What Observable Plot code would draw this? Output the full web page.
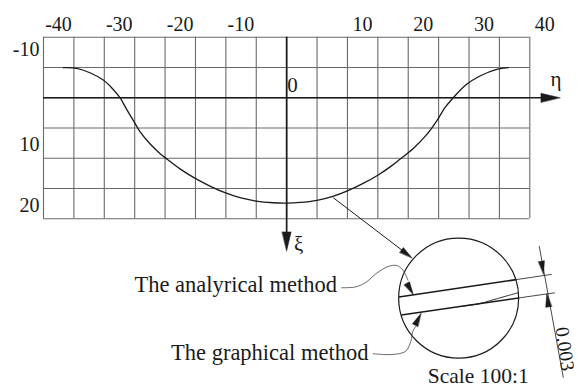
<!DOCTYPE html>
<html>
<head>
<meta charset="utf-8">
<script src="https://cdn.jsdelivr.net/npm/d3@7"></script>
<script src="https://cdn.jsdelivr.net/npm/@observablehq/plot@0.6"></script>
<style>
  html, body { margin: 0; padding: 0; background: #fff; }
  #chart svg { display: block; }
</style>
</head>
<body>
<div id="chart"></div>
<script>
// Profile of the contour in the (η, ξ) plane; ξ grows downward.
const etaDomain = [-40, 40];
const xiDomain = [-10, 20];
const gridEta = d3.range(-40, 41, 5);
const gridXi = d3.range(-10, 21, 5);
const etaTickLabels = [-40, -30, -20, -10, 10, 20, 30, 40];
const xiTickTop = [-10];
const xiTicksLower = [10, 20];

// Contour points (η, ξ)
const curveEta = [-36.75, -34.55, -32.36, -30.17, -28.79, -27.42, -26.32, -25.23, -24.13, -22.49, -20.85, -19.74,
                  -17.55, -15.25, -12.62, -10.15, -7.68, -5.05, -2.2, 0,
                  2.2, 5.0, 7.6, 10.0, 12.5, 15.0, 17.2, 18.64, 20.83, 23.03, 24.67, 26.04, 27.41, 29.61, 31.8, 34.55, 36.45];
const curveXi  = [-4.96, -4.86, -4.13, -2.92, -1.65, 0, 1.92, 3.75, 5.6, 7.6, 9.2, 10.1,
                  11.75, 13.2, 14.59, 15.69, 16.52, 17.07, 17.35, 17.4,
                  17.3, 16.95, 16.3, 15.4, 14.2, 12.8, 11.3, 10.18, 8.4, 6.1, 3.85, 1.65, 0, -2.21, -3.59, -4.69, -4.96];

// Detail view (drawn in the same η/ξ units, below the grid)
const detailCenter = [{eta: 28.3, xi: 33.1}];
const pointerLine = [{eta1: 7.67, xi1: 16.52, eta2: 20.3, xi2: 26.2}];
const bandInside = [
  {eta1: 18.47, xi1: 32.93, eta2: 37.74, xi2: 30.05},
  {eta1: 18.87, xi1: 35.88, eta2: 38.21, xi2: 33.07}
];
const bandExtension = [
  {eta1: 37.74, xi1: 30.05, eta2: 43.59, xi2: 29.18},
  {eta1: 38.21, xi1: 33.07, eta2: 44.14, xi2: 32.22}
];
const forkEta = [29.05, 31.6, 33.4, 36.0, 38.1];
const forkXi  = [34.41, 34.05, 33.55, 32.8, 32.22];
const dimensionLine = [{eta1: 41.55, xi1: 24.51, eta2: 45.52, xi2: 46.26}];
const analyticLeaderEta = [9.05, 11.24, 12.88, 14.85, 16.66, 18.14, 19.13, 19.95];
const analyticLeaderXi  = [31.39, 31.27, 30.61, 28.96, 27.89, 27.72, 28.47, 30.12];
const graphicLeaderEta = [14.25, 16.17, 18.14, 19.62, 20.45, 20.78, 21.27];
const graphicLeaderXi  = [42.29, 42.43, 42.34, 41.85, 40.19, 38.54, 37.72];

// Arrowheads: tip position and heading (degrees clockwise from up)
const axisHeads = [
  {eta: 44.96, xi: 0, heading: 90},     // η axis
  {eta: 0, xi: 25.3, heading: 180}      // ξ axis
];
const pointerHeads = [
  {eta: 20.6, xi: 26.45, heading: 127.4},  // pointer to detail
  {eta: 42.25, xi: 29.13, heading: 171.1}, // dimension, upper
  {eta: 42.78, xi: 32.43, heading: 351.1}, // dimension, lower
  {eta: 20.83, xi: 32.51, heading: 150.4}, // analytical leader
  {eta: 22.09, xi: 35.65, heading: 26.6}   // graphical leader
];

const centredLabels = [
  {eta: 0.95, xi: -2.1, text: "0"},
  {eta: 44.3, xi: -3.0, text: "η"},
  {eta: 2.0, xi: 24.2, text: "ξ"}
];
const methodLabels = [
  {eta: 8.27, xi: 30.83, text: "The analyrical method"},
  {eta: 13.46, xi: 42.13, text: "The graphical method"}
];
const scaleLabel = [{eta: 31.52, xi: 45.98, text: "Scale 100:1"}];
const dimensionLabel = [{eta: 45.75, xi: 41.5, text: "0.003"}];

const curve = curveEta.map((e, i) => ({eta: e, xi: curveXi[i]}));
const fork = forkEta.map((e, i) => ({eta: e, xi: forkXi[i]}));
const analyticLeader = analyticLeaderEta.map((e, i) => ({eta: e, xi: analyticLeaderXi[i]}));
const graphicLeader = graphicLeaderEta.map((e, i) => ({eta: e, xi: graphicLeaderXi[i]}));

// Filled slender arrowhead; the tip sits at the anchor point
const headShape = {
  draw(context, l, r) {
    context.moveTo(0, -l);
    context.lineTo(-r, 0);
    context.lineTo(r, 0);
    context.closePath();
  }
};

const ink = "#1a1a1a";
const font = "'Liberation Serif', 'Times New Roman', serif";

const chart = Plot.plot({
  width: 578,
  height: 387,
  marginLeft: 43,
  marginRight: 48.7,
  marginTop: 36.7,
  marginBottom: 168.7,
  style: {fontFamily: font, background: "#fff", color: ink, overflow: "visible"},
  x: {domain: etaDomain, axis: null},
  y: {domain: xiDomain, reverse: true, axis: null},
  marks: [
    // grid
    Plot.ruleX(gridEta, {x: d => d, y1: xiDomain[0], y2: xiDomain[1], stroke: "#6a6a6a", strokeWidth: 1.1}),
    Plot.ruleY(gridXi, {y: d => d, x1: etaDomain[0], x2: etaDomain[1], stroke: "#6a6a6a", strokeWidth: 1.1}),
    // axes
    Plot.ruleY([0], {x1: etaDomain[0], x2: axisHeads[0].eta - 1, stroke: ink, strokeWidth: 1.7}),
    Plot.ruleX([0], {y1: xiDomain[0], y2: axisHeads[1].xi - 1, stroke: ink, strokeWidth: 1.7}),
    // contour
    Plot.line(curve, {x: "eta", y: "xi", curve: "catmull-rom", stroke: ink, strokeWidth: 1.3}),
    // detail view
    Plot.link(pointerLine, {x1: "eta1", y1: "xi1", x2: "eta2", y2: "xi2", stroke: ink, strokeWidth: 1}),
    Plot.dot(detailCenter, {x: "eta", y: "xi", r: 60, stroke: ink, strokeWidth: 1.2, fill: "none"}),
    Plot.link(bandInside, {x1: "eta1", y1: "xi1", x2: "eta2", y2: "xi2", stroke: ink, strokeWidth: 1.6}),
    Plot.link(bandExtension, {x1: "eta1", y1: "xi1", x2: "eta2", y2: "xi2", stroke: ink, strokeWidth: 0.8}),
    Plot.line(fork, {x: "eta", y: "xi", curve: "catmull-rom", stroke: ink, strokeWidth: 0.9}),
    Plot.link(dimensionLine, {x1: "eta1", y1: "xi1", x2: "eta2", y2: "xi2", stroke: ink, strokeWidth: 0.8}),
    Plot.line(analyticLeader, {x: "eta", y: "xi", curve: "catmull-rom", stroke: "#444", strokeWidth: 0.8}),
    Plot.line(graphicLeader, {x: "eta", y: "xi", curve: "catmull-rom", stroke: "#444", strokeWidth: 0.8}),
    Plot.vector(axisHeads, {x: "eta", y: "xi", rotate: "heading", length: 19, anchor: "end",
      shape: headShape, r: 4.5, fill: ink, stroke: ink, strokeWidth: 0.5}),
    Plot.vector(pointerHeads, {x: "eta", y: "xi", rotate: "heading", length: 13, anchor: "end",
      shape: headShape, r: 3, fill: ink, stroke: ink, strokeWidth: 0.5}),
    // tick labels
    Plot.text(etaTickLabels, {x: d => d, text: d => String(d), frameAnchor: "top", dx: 15, dy: -13,
      fontSize: 20, fill: ink, lineAnchor: "middle"}),
    Plot.text(xiTickTop, {y: d => d, text: d => String(d), frameAnchor: "left", textAnchor: "end", dx: -4, dy: 12.5,
      fontSize: 20, fill: ink, lineAnchor: "middle"}),
    Plot.text(xiTicksLower, {y: d => d, text: d => String(d), frameAnchor: "left", textAnchor: "end", dx: -4, dy: -13.5,
      fontSize: 20, fill: ink, lineAnchor: "middle"}),
    // annotations
    Plot.text(centredLabels, {x: "eta", y: "xi", text: "text", fontSize: 21, fill: ink, lineAnchor: "middle"}),
    Plot.text(methodLabels, {x: "eta", y: "xi", text: "text", textAnchor: "end", fontSize: 22.5, fill: ink, lineAnchor: "middle"}),
    Plot.text(scaleLabel, {x: "eta", y: "xi", text: "text", fontSize: 21.5, fill: ink, lineAnchor: "middle"}),
    Plot.text(dimensionLabel, {x: "eta", y: "xi", text: "text", rotate: 82, fontSize: 19.5, fill: ink, lineAnchor: "middle"})
  ]
});

document.getElementById("chart").appendChild(chart);
</script>
</body>
</html>
